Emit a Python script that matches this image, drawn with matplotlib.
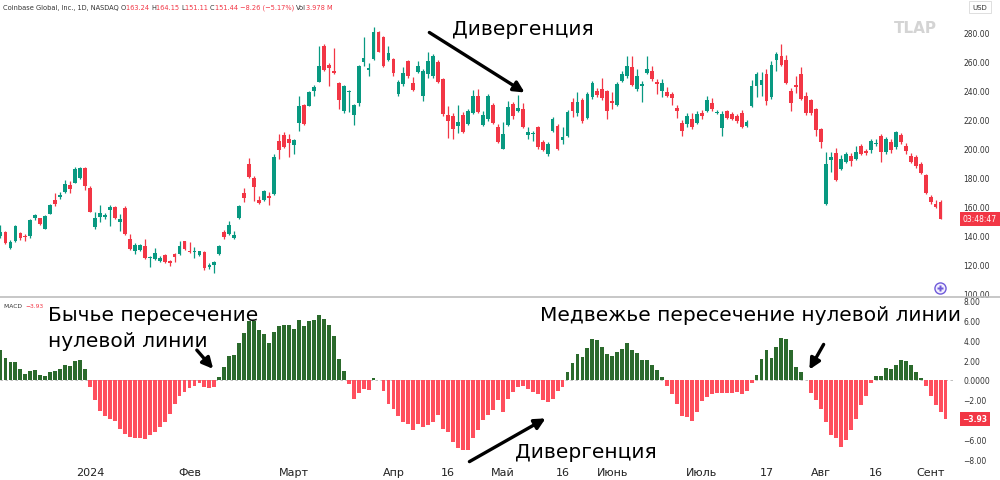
import numpy as np
import matplotlib
matplotlib.use("Agg")
import matplotlib.pyplot as plt
from matplotlib.lines import Line2D
from matplotlib.patches import FancyArrowPatch

plt.rcParams['font.family'] = ['DejaVu Sans']

# daily candles, COIN, Dec 2023 - Sep 2024
opens = [139.2, 142.4, 131.1, 136.0, 141.3, 139.2, 139.2, 152.1, 151.6, 144.5,
         154.8, 164.5, 166.3, 169.5, 174.4, 176.2, 179.4, 186.1, 172.8, 145.9,
         152.3, 152.6, 157.4, 159.4, 149.3, 159.0, 137.2, 129.4, 130.0, 132.8,
         124.1, 123.6, 122.0, 126.6, 122.2, 127.3, 126.8, 135.8, 129.4, 128.2,
         126.6, 128.2, 118.3, 119.3, 126.8, 142.2, 140.9, 138.1, 151.9, 169.1,
         189.1, 179.4, 164.3, 164.3, 167.0, 168.4, 204.9, 209.0, 206.3, 202.2,
         217.3, 229.7, 229.0, 239.4, 245.6, 270.4, 257.3, 253.2, 244.9, 225.6,
         238.7, 222.8, 231.1, 259.3, 253.9, 261.4, 280.0, 276.6, 260.7, 261.4,
         237.3, 244.2, 260.0, 244.9, 252.5, 235.9, 251.1, 249.7, 259.3, 247.6,
         222.8, 222.1, 215.3, 222.8, 216.6, 224.2, 235.9, 216.0, 220.1, 229.7,
         214.6, 199.4, 216.0, 230.4, 225.6, 227.0, 209.1, 209.8, 214.6, 204.2,
         196.0, 211.8, 215.3, 205.6, 208.4, 231.8, 224.2, 233.2, 220.8, 235.2,
         239.4, 240.8, 239.4, 232.5, 229.7, 246.3, 249.7, 256.0, 240.8, 243.0,
         251.8, 253.2, 245.6, 239.4, 238.7, 237.3, 227.7, 217.3, 216.6, 220.1,
         217.3, 224.2, 225.6, 231.1, 224.2, 213.9, 225.6, 223.5, 222.1, 224.2,
         215.3, 229.0, 243.0, 243.5, 251.1, 235.2, 260.7, 263.5, 260.7, 239.4,
         243.5, 251.1, 235.9, 233.2, 227.0, 213.2, 161.5, 191.8, 196.7, 185.6,
         190.5, 194.6, 192.5, 201.5, 198.0, 198.7, 202.9, 208.4, 197.3, 204.2,
         200.8, 209.1, 201.5, 194.6, 193.9, 189.1, 181.5, 166.3, 161.5, 163.24]
highs = [147.0, 143.1, 136.9, 147.0, 142.0, 140.8, 151.2, 154.6, 152.1, 153.9,
         161.5, 169.1, 169.5, 178.3, 177.6, 186.8, 186.8, 186.8, 173.7, 155.8,
         160.8, 155.1, 160.8, 160.4, 154.6, 160.4, 140.8, 134.6, 134.1, 137.4,
         125.9, 131.4, 125.5, 127.3, 123.2, 127.8, 136.2, 136.2, 135.1, 131.6,
         129.4, 128.9, 120.8, 122.5, 133.2, 143.6, 149.8, 142.9, 160.8, 172.6,
         193.2, 180.8, 167.0, 171.2, 169.8, 196.0, 209.8, 211.1, 209.8, 206.3,
         235.9, 230.4, 239.4, 243.5, 270.4, 271.8, 258.7, 269.0, 245.6, 243.5,
         240.0, 230.4, 257.3, 276.6, 258.7, 283.5, 280.7, 277.3, 270.4, 262.1,
         247.0, 256.0, 260.7, 249.0, 260.0, 254.6, 266.3, 264.9, 260.7, 248.3,
         229.0, 224.2, 229.7, 224.9, 227.0, 240.0, 240.8, 225.6, 237.3, 231.1,
         216.6, 218.2, 232.5, 231.8, 236.6, 231.1, 214.6, 212.0, 215.3, 205.6,
         204.2, 221.5, 216.6, 214.6, 226.3, 234.5, 238.7, 234.5, 238.7, 246.3,
         241.5, 248.3, 240.1, 238.7, 245.6, 253.2, 263.5, 263.5, 254.6, 246.3,
         263.5, 256.6, 247.6, 247.6, 242.1, 238.7, 229.7, 219.4, 224.2, 224.2,
         225.6, 226.3, 235.9, 234.5, 226.3, 225.6, 226.3, 224.9, 223.5, 226.3,
         219.4, 247.0, 252.5, 252.5, 254.6, 260.0, 266.3, 271.8, 264.2, 241.5,
         249.7, 255.9, 238.7, 233.9, 227.7, 213.9, 197.6, 197.6, 200.1, 195.3,
         197.6, 196.7, 201.3, 202.9, 199.4, 206.3, 206.3, 209.8, 207.7, 206.3,
         211.8, 210.4, 203.6, 196.7, 195.3, 190.5, 182.2, 167.7, 164.3, 164.15]
lows = [137.8, 133.9, 130.5, 135.5, 137.0, 136.2, 137.8, 150.7, 147.0, 144.0,
        154.4, 160.4, 165.2, 168.9, 169.1, 175.8, 178.8, 171.4, 155.8, 144.3,
        148.9, 151.2, 146.6, 151.2, 143.1, 140.1, 130.1, 127.1, 129.4, 123.6,
        117.9, 123.2, 121.3, 120.9, 118.6, 121.3, 126.4, 130.0, 127.8, 124.1,
        125.9, 116.2, 116.7, 114.0, 126.4, 137.4, 140.2, 137.4, 151.2, 162.9,
        179.4, 163.6, 161.5, 163.6, 160.8, 167.7, 192.5, 200.1, 193.9, 196.0,
        211.8, 216.0, 229.0, 235.9, 245.6, 253.2, 242.8, 251.1, 227.0, 224.2,
        224.9, 216.0, 229.0, 256.6, 249.7, 260.7, 266.3, 256.0, 260.0, 249.7,
        235.9, 242.8, 248.3, 239.4, 252.0, 232.5, 248.3, 248.3, 244.9, 222.1,
        207.0, 206.3, 210.4, 210.4, 216.0, 223.5, 224.2, 215.3, 218.7, 216.6,
        203.6, 199.4, 215.3, 220.1, 224.9, 213.9, 206.3, 205.0, 199.4, 198.0,
        194.6, 211.1, 198.7, 202.9, 207.7, 221.5, 222.1, 217.3, 220.1, 233.9,
        235.2, 233.2, 220.1, 227.0, 229.0, 245.6, 248.3, 242.8, 239.4, 231.8,
        251.1, 246.3, 237.3, 235.2, 235.2, 229.7, 220.8, 208.4, 214.6, 213.2,
        216.6, 220.1, 224.9, 225.6, 223.5, 208.4, 220.1, 219.4, 217.3, 213.9,
        214.6, 228.3, 235.2, 235.9, 229.7, 233.9, 253.2, 256.6, 244.2, 225.6,
        238.0, 233.2, 222.8, 222.8, 208.4, 200.1, 160.8, 183.6, 177.4, 184.9,
        189.8, 188.0, 191.8, 195.3, 195.3, 197.0, 201.5, 190.5, 196.0, 197.0,
        199.4, 202.9, 196.0, 190.0, 186.3, 182.2, 168.4, 161.5, 158.7, 151.11]
closes = [142.4, 134.4, 135.5, 146.3, 137.8, 138.5, 150.2, 153.7, 147.5, 153.3,
          160.8, 161.7, 167.9, 175.5, 171.8, 185.4, 186.3, 173.7, 156.2, 151.9,
          155.3, 153.7, 159.2, 151.6, 151.2, 140.8, 130.5, 133.5, 133.5, 124.1,
          124.8, 128.0, 124.3, 121.3, 120.9, 124.8, 132.3, 130.5, 128.2, 128.9,
          128.9, 117.2, 119.7, 121.8, 132.3, 138.8, 147.1, 140.2, 160.2, 165.7,
          180.1, 173.2, 162.2, 170.5, 165.7, 193.9, 198.7, 200.8, 203.6, 205.6,
          229.0, 216.6, 238.7, 242.1, 256.6, 253.9, 255.2, 251.8, 233.2, 242.8,
          239.4, 229.7, 256.6, 262.1, 255.2, 280.0, 266.3, 256.6, 265.6, 251.8,
          245.6, 251.8, 249.7, 240.0, 256.6, 253.2, 260.0, 263.5, 245.6, 223.5,
          218.7, 213.2, 218.0, 211.1, 225.6, 235.9, 224.9, 222.8, 235.9, 217.3,
          204.2, 209.8, 228.3, 222.1, 227.7, 214.6, 211.1, 210.4, 200.8, 198.7,
          202.9, 220.1, 199.4, 207.7, 224.9, 225.6, 231.8, 218.7, 237.3, 244.9,
          236.6, 234.5, 225.6, 231.1, 244.2, 251.1, 256.6, 243.5, 249.7, 244.2,
          254.6, 247.6, 244.2, 244.9, 236.2, 234.5, 225.6, 211.8, 222.1, 214.6,
          223.5, 222.1, 233.2, 227.0, 224.9, 223.5, 220.8, 220.1, 218.7, 214.6,
          218.0, 243.0, 251.1, 247.0, 232.5, 257.3, 264.9, 257.3, 244.9, 231.1,
          242.1, 233.9, 224.2, 224.2, 212.5, 204.2, 189.1, 193.9, 178.1, 192.5,
          196.0, 191.2, 197.3, 196.0, 196.7, 204.9, 203.6, 197.3, 206.3, 198.7,
          211.1, 204.2, 198.0, 190.5, 187.7, 182.9, 169.1, 162.9, 159.4, 151.44]

# MACD histogram
macd_hist = [3.0, 2.27, 1.83, 1.77, 1.1, 0.6, 0.93, 1.03, 0.53, 0.43,
             0.77, 0.93, 1.1, 1.5, 1.43, 1.87, 2.03, 1.1,
             -0.73, -2.07, -3.17, -3.67, -3.9, -4.17, -4.9, -5.5, -5.8, -5.9,
             -5.83, -5.97, -5.57, -5.23, -4.73, -4.23, -3.4, -2.4, -1.57, -1.23,
             -0.83, -0.57, -0.3, -0.73, -0.83, -0.75,
             0.27, 1.33, 2.43, 2.5, 3.77, 4.77, 5.93, 6.0, 5.0, 4.67,
             3.77, 4.83, 5.5, 5.6, 5.53, 5.17, 6.03, 5.43, 5.93, 6.03,
             6.53, 6.17, 5.6, 4.43, 2.1, 0.93,
             -0.4, -1.9, -1.3, -0.9, -1.0, 0.2, -0.05,
             -1.07, -2.4, -2.97, -3.67, -4.23, -4.4, -5.07, -4.4, -4.73, -4.57,
             -4.23, -3.57, -4.9, -5.23, -6.23, -6.9, -7.07, -7.07, -5.9, -5.07,
             -4.07, -3.57, -3.07, -2.07, -3.2,
             -1.9, -1.23, -0.7, -0.57, -0.9, -1.17, -1.4, -2.07, -2.23, -1.9,
             -1.07, -0.7,
             0.8, 1.7, 2.6, 2.3, 3.2, 4.1, 4.0, 3.3, 2.6, 2.4,
             2.8, 3.1, 3.7, 3.0, 2.7, 2.0, 2.0, 1.5, 1.0, 0.3,
             -0.6, -1.4, -2.4, -3.6, -3.7, -4.1, -3.2, -2.1, -1.7, -1.4,
             -1.3, -1.3, -1.3, -1.3, -1.2, -1.4, -1.1, -0.3,
             0.5, 2.17, 3.0, 2.27, 3.37, 4.27, 4.17, 3.03, 1.27, 0.77,
             -0.05, -1.3, -2.07, -2.97, -4.23, -5.57, -5.9, -6.73, -6.07, -5.07,
             -3.9, -2.57, -1.57, -0.33,
             0.37, 0.43, 1.17, 1.1, 1.5, 2.0, 1.93, 1.5, 0.77, 0.17,
             -0.57, -1.63, -2.57, -3.23, -3.93]

tick_pos = [18, 38, 59, 79, 90, 101, 113, 123, 141, 154, 165, 176, 187]
tick_labels = ["2024", "Фев", "Март", "Апр", "16", "Май", "16", "Июнь",
               "Июль", "17", "Авг", "16", "Сент"]
price_ticks = [100, 120, 140, 160, 180, 200, 220, 240, 260, 280]
macd_ticks = [8, 6, 4, 2, 0, -2, -6, -8]

UP, DOWN = "#089981", "#F23645"
H_UP, H_DOWN = "#2b6a2c", "#ff4f5e"
W, H = 1000, 481

o = np.array(opens); h = np.array(highs); l = np.array(lows); c = np.array(closes)
hist = np.array(macd_hist)
x = np.arange(len(c))
xh = np.arange(len(hist))

fig = plt.figure(figsize=(W / 100, H / 100), dpi=100)
fig.patch.set_facecolor("white")
ax = fig.add_axes([0, 1 - 298 / H, 955 / W, 298 / H])
ax2 = fig.add_axes([0, 1 - 462 / H, 955 / W, (462 - 298) / H], sharex=ax)

# candles
cols = np.where(c >= o, UP, DOWN)
ax.vlines(x, l, h, colors=cols, lw=0.9)
ax.bar(x, np.maximum(np.abs(c - o), 0.7), bottom=np.minimum(o, c),
       width=0.76, color=cols, lw=0)
ax.set_xlim(-0.1, 191.9)
ax.set_ylim(97.45, 302.8)
ax.yaxis.tick_right()
ax.set_yticks(price_ticks)
ax.set_yticklabels([f"{v:.2f}" for v in price_ticks])
ax.tick_params(axis="y", length=0, pad=6, labelsize=5.5, labelcolor="#333333")
ax.tick_params(axis="x", bottom=False, labelbottom=False)
for s in ax.spines.values():
    s.set_visible(False)

# macd histogram
ax2.bar(xh, hist, width=0.78, color=np.where(hist >= 0, H_UP, H_DOWN), lw=0)
ax2.axhline(0, color="#b5b5b5", lw=0.6, ls=(0, (3, 3)), zorder=0)
ax2.set_ylim(-8.18, 8.38)
ax2.yaxis.tick_right()
ax2.set_yticks(macd_ticks)
ax2.set_yticklabels(["0.0000" if v == 0 else f"{v:.2f}".replace("-", "\u2212") for v in macd_ticks])
ax2.tick_params(axis="y", length=0, pad=6, labelsize=5.5, labelcolor="#333333")
ax2.set_xticks(tick_pos)
ax2.set_xticklabels(tick_labels)
ax2.tick_params(axis="x", length=0, pad=4, labelsize=8, labelcolor="#222222")
for s in ax2.spines.values():
    s.set_visible(False)

def fx(px):
    return px / W

def fy(py):
    return 1 - py / H

# panel separator
fig.add_artist(Line2D([0, 1], [fy(298), fy(298)], transform=fig.transFigure,
                      color="#bdbdbd", lw=1.2))

# header line
renderer = fig.canvas.get_renderer()
parts = [("Coinbase Global, Inc., 1D, NASDAQ ", "#333333"), ("O", "#333333"),
         ("163.24 ", DOWN), ("H", "#333333"), ("164.15 ", DOWN), ("L", "#333333"),
         ("151.11 ", DOWN), ("C", "#333333"), ("151.44 ", DOWN),
         ("\u22128.26 (\u22125.17%) ", DOWN), ("Vol", "#333333"), ("3.978 M", DOWN)]
xp = 3
for s, col in parts:
    t = fig.text(fx(xp), fy(8), s, color=col, fontsize=4.8, va="center")
    xp = t.get_window_extent(renderer).x1

xp = 4
for s, col in [("MACD  ", "#333333"), ("\u22123.93", DOWN)]:
    t = fig.text(fx(xp), fy(307), s, color=col, fontsize=4.3, va="center")
    xp = t.get_window_extent(renderer).x1

# right scale boxes
fig.text(fx(980), fy(8), "USD", fontsize=5, color="#333333", ha="center", va="center",
         bbox=dict(boxstyle="square,pad=0.5", fc="white", ec="#d9d9d9", lw=0.6))
fig.text(fx(980), fy(220), "03:48:47", fontsize=5.5, color="white", ha="center", va="center",
         bbox=dict(boxstyle="square,pad=0.35", fc=DOWN, ec="none"))
fig.text(fx(975), fy(420), "\u22123.93", fontsize=5.5, color="white", ha="center", va="center",
         fontweight="bold", bbox=dict(boxstyle="square,pad=0.35", fc=DOWN, ec="none"))
fig.text(fx(915), fy(29), "TLAP", fontsize=11, color="#d4d4d4", ha="center", va="center",
         fontweight="bold")
fig.add_artist(Line2D([fx(940)], [fy(289)], transform=fig.transFigure, marker="o",
                      ms=8, mfc="#f3f0ff", mec="#6f5bd9", mew=1))
fig.add_artist(Line2D([fx(940)], [fy(289)], transform=fig.transFigure, marker="P",
                      ms=4, mfc="#6f5bd9", mec="none"))

# annotations
for s, px, py in [("Дивергенция", 452, 35), ("Бычье пересечение", 48, 321),
                  ("нулевой линии", 48, 347), ("Медвежье пересечение нулевой линии", 540, 321),
                  ("Дивергенция", 515, 458)]:
    fig.text(fx(px), fy(py), s, fontsize=14.5, color="black", va="baseline", ha="left")

for (x0, y0), (x1, y1) in [((427, 32), (527, 95)), ((195, 349), (215, 372)),
                           ((825, 343), (808, 373)), ((467, 464), (548, 418))]:
    fig.add_artist(FancyArrowPatch((fx(x0), fy(y0)), (fx(x1), fy(y1)),
                                   transform=fig.transFigure, arrowstyle="-|>",
                                   mutation_scale=16, lw=2.4, color="black"))

fig.savefig("out.png", dpi=100)
